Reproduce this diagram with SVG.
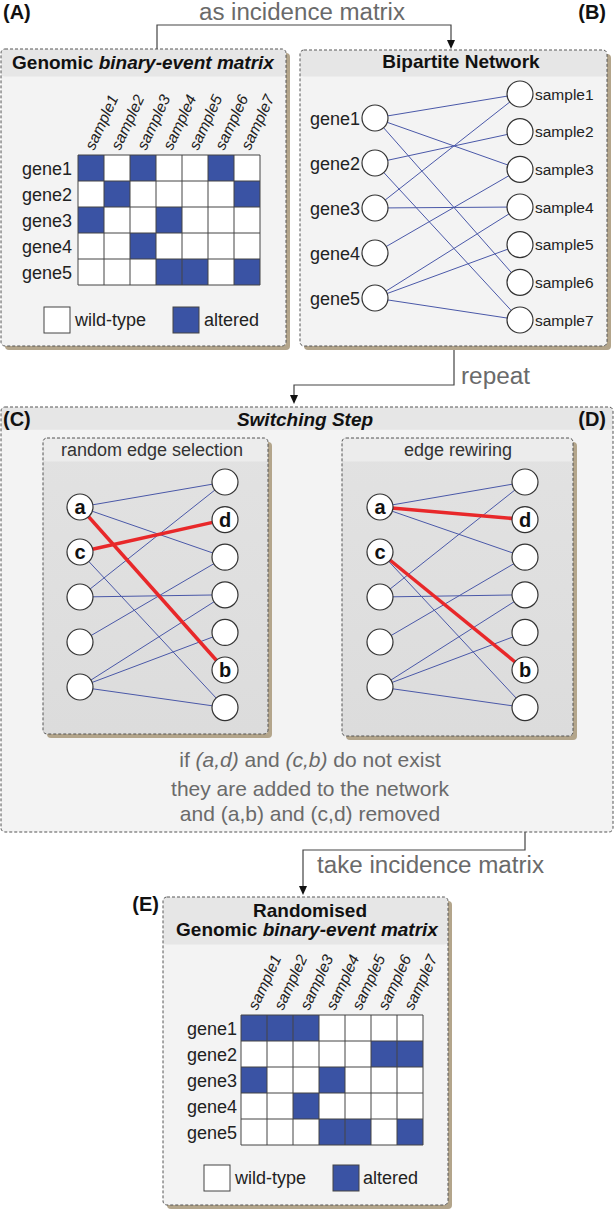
<svg xmlns="http://www.w3.org/2000/svg" width="616" height="1212" viewBox="0 0 616 1212">
<defs>
<style>
text{font-family:"Liberation Sans",Arial,sans-serif;}
.shadow{fill:#b3a58b;}
.body{fill:#f3f3f3;}
.hdr{fill:#e6e6e6;}
.inner{fill:url(#ig);}
.ihdr{fill:#ececec;}
.outline{fill:none;stroke:#555;stroke-width:1;stroke-dasharray:3 2;}
.title{font-size:19px;font-weight:bold;fill:#111;text-anchor:middle;}
.plabel{font-size:20px;font-weight:bold;fill:#111;}
.lbl{font-size:18px;fill:#222;}
.samp{font-size:15.5px;font-style:italic;fill:#222;}
.slbl{font-size:15.5px;fill:#222;}
.grid{fill:none;stroke:#444;stroke-width:1;}
.alt{fill:#3a53a4;}
.wt{fill:#fff;}
.edge{stroke:#4a58a8;stroke-width:1;}
.red{stroke:#e8282a;stroke-width:3.5;}
.node{fill:#fff;stroke:#333;stroke-width:1.2;}
.nl{font-size:20px;font-weight:bold;fill:#111;text-anchor:middle;}
.conn{fill:none;stroke:#444;stroke-width:1.2;}
.arr{fill:#111;}
.ctext{font-size:23px;fill:#6a6a6a;}
.mtext{font-size:21px;fill:#6a6a6a;text-anchor:middle;}
.ititle{font-size:18px;fill:#333;text-anchor:middle;}
</style>
<linearGradient id="ig" x1="0" y1="0" x2="0" y2="1">
<stop offset="0" stop-color="#e2e2e2"/>
<stop offset="1" stop-color="#dcdcdc"/>
</linearGradient>
</defs>

<!-- Panel labels -->
<text class="plabel" x="3" y="19">(A)</text>
<text class="plabel" x="606" y="19" text-anchor="end">(B)</text>

<!-- Connectors -->
<g id="connectors">
<path class="conn" d="M157,49 V25 H451 V41"/>
<polygon class="arr" points="447,40 455,40 451,49"/>
<path class="conn" d="M454,346 V385 H294 V396"/>
<polygon class="arr" points="290,395 298,395 294,404"/>
<path class="conn" d="M151,734 V774 H467 V745"/>
<polygon class="arr" points="463,746 471,746 467,737"/>
<path class="conn" d="M525,736 V850 H303 V886"/>
<polygon class="arr" points="299,886 307,886 303,895"/>
<text class="ctext" x="199" y="20" textLength="206" lengthAdjust="spacingAndGlyphs">as incidence matrix</text>
<text class="ctext" x="461" y="384" textLength="69" lengthAdjust="spacingAndGlyphs">repeat</text>
<text class="ctext" x="317" y="873" textLength="227" lengthAdjust="spacingAndGlyphs">take incidence matrix</text>
</g>

<!-- Panel A -->
<g id="panelA">
<rect class="shadow" x="5" y="53" width="285" height="297" rx="4"/>
<rect class="body" x="1" y="49" width="285" height="297" rx="4"/>
<rect class="hdr" x="1.5" y="49.5" width="284" height="27" rx="3.5"/>
<rect class="hdr" x="1.5" y="70" width="284" height="6"/>
<rect class="outline" x="1" y="49" width="285" height="297" rx="4"/>
<text class="title" x="143" y="69">Genomic <tspan font-style="italic">binary-event matrix</tspan></text>
<g class="samp">
<text transform="translate(94,151) rotate(-65)">sample1</text>
<text transform="translate(120,151) rotate(-65)">sample2</text>
<text transform="translate(146,151) rotate(-65)">sample3</text>
<text transform="translate(172,151) rotate(-65)">sample4</text>
<text transform="translate(198,151) rotate(-65)">sample5</text>
<text transform="translate(224,151) rotate(-65)">sample6</text>
<text transform="translate(250,151) rotate(-65)">sample7</text>
</g>
<g class="lbl" text-anchor="end">
<text x="72" y="175">gene1</text>
<text x="72" y="201">gene2</text>
<text x="72" y="227">gene3</text>
<text x="72" y="253">gene4</text>
<text x="72" y="279">gene5</text>
</g>
<rect class="wt" x="78" y="155" width="182" height="130"/>
<g class="alt">
<rect x="78" y="155" width="26" height="26"/>
<rect x="130" y="155" width="26" height="26"/>
<rect x="208" y="155" width="26" height="26"/>
<rect x="104" y="181" width="26" height="26"/>
<rect x="234" y="181" width="26" height="26"/>
<rect x="78" y="207" width="26" height="26"/>
<rect x="156" y="207" width="26" height="26"/>
<rect x="130" y="233" width="26" height="26"/>
<rect x="156" y="259" width="26" height="26"/>
<rect x="182" y="259" width="26" height="26"/>
<rect x="234" y="259" width="26" height="26"/>
</g>
<path class="grid" d="M78,155V285M104,155V285M130,155V285M156,155V285M182,155V285M208,155V285M234,155V285M260,155V285M78,155H260M78,181H260M78,207H260M78,233H260M78,259H260M78,285H260"/>
<rect class="wt" x="44" y="307" width="26" height="26" stroke="#444" stroke-width="1"/>
<text class="lbl" x="75" y="326">wild-type</text>
<rect class="alt" x="173" y="307" width="26" height="26" stroke="#444" stroke-width="1"/>
<text class="lbl" x="204" y="326">altered</text>
</g>

<!-- Panel B -->
<g id="panelB">
<rect class="shadow" x="304" y="54" width="307" height="296" rx="4"/>
<rect class="body" x="300" y="50" width="307" height="296" rx="4"/>
<rect class="hdr" x="300.5" y="50.5" width="306" height="26" rx="3.5"/>
<rect class="hdr" x="300.5" y="70" width="306" height="6"/>
<rect class="outline" x="300" y="50" width="307" height="296" rx="4"/>
<text class="title" x="461" y="68">Bipartite Network</text>
<g class="edge">
<line x1="375" y1="118" x2="520" y2="94"/>
<line x1="375" y1="118" x2="520" y2="169.3"/>
<line x1="375" y1="118" x2="520" y2="282.3"/>
<line x1="375" y1="163" x2="520" y2="131.7"/>
<line x1="375" y1="163" x2="520" y2="320"/>
<line x1="375" y1="208" x2="520" y2="94"/>
<line x1="375" y1="208" x2="520" y2="207"/>
<line x1="375" y1="253" x2="520" y2="169.3"/>
<line x1="375" y1="298" x2="520" y2="207"/>
<line x1="375" y1="298" x2="520" y2="244.7"/>
<line x1="375" y1="298" x2="520" y2="320"/>
</g>
<g class="node">
<circle cx="375" cy="118" r="13"/>
<circle cx="375" cy="163" r="13"/>
<circle cx="375" cy="208" r="13"/>
<circle cx="375" cy="253" r="13"/>
<circle cx="375" cy="298" r="13"/>
<circle cx="520" cy="94" r="13"/>
<circle cx="520" cy="131.7" r="13"/>
<circle cx="520" cy="169.3" r="13"/>
<circle cx="520" cy="207" r="13"/>
<circle cx="520" cy="244.7" r="13"/>
<circle cx="520" cy="282.3" r="13"/>
<circle cx="520" cy="320" r="13"/>
</g>
<g class="lbl" text-anchor="end">
<text x="360" y="124.5">gene1</text>
<text x="360" y="169.5">gene2</text>
<text x="360" y="214.5">gene3</text>
<text x="360" y="259.5">gene4</text>
<text x="360" y="304.5">gene5</text>
</g>
<g class="slbl">
<text x="535" y="99.5">sample1</text>
<text x="535" y="137.2">sample2</text>
<text x="535" y="174.8">sample3</text>
<text x="535" y="212.5">sample4</text>
<text x="535" y="250.2">sample5</text>
<text x="535" y="287.8">sample6</text>
<text x="535" y="325.5">sample7</text>
</g>
</g>

<!-- Panel C/D outer: Switching Step -->
<g id="switching">
<rect class="body" x="1" y="407" width="612" height="425" rx="4" fill="#f4f4f4"/>
<rect class="hdr" x="1.5" y="407.5" width="611" height="22" rx="3.5" fill="#e8e8e8"/>
<rect class="hdr" x="1.5" y="424" width="611" height="5.5" fill="#e8e8e8"/>
<rect class="outline" x="1" y="407" width="612" height="425" rx="4"/>
<text class="plabel" x="3" y="426">(C)</text>
<text class="plabel" x="606" y="426" text-anchor="end">(D)</text>
<text class="title" x="305" y="426" font-style="italic">Switching Step</text>
</g>

<!-- Inner C -->
<g id="panelC">
<rect class="shadow" x="47" y="442" width="225" height="296" rx="4"/>
<rect class="inner" x="43" y="438" width="225" height="296" rx="4"/>
<rect class="ihdr" x="43.5" y="438.5" width="224" height="23" rx="3.5"/>
<rect class="ihdr" x="43.5" y="455" width="224" height="6"/>
<rect class="outline" x="43" y="438" width="225" height="296" rx="4"/>
<text class="ititle" x="152" y="456">random edge selection</text>
<g class="edge">
<line x1="80" y1="507" x2="225" y2="482"/>
<line x1="80" y1="507" x2="225" y2="557.2"/>
<line x1="80" y1="552" x2="225" y2="707.6"/>
<line x1="80" y1="597" x2="225" y2="482"/>
<line x1="80" y1="597" x2="225" y2="594.8"/>
<line x1="80" y1="642" x2="225" y2="557.2"/>
<line x1="80" y1="687" x2="225" y2="594.8"/>
<line x1="80" y1="687" x2="225" y2="632.4"/>
<line x1="80" y1="687" x2="225" y2="707.6"/>
</g>
<g class="red">
<line x1="80" y1="507" x2="225" y2="670"/>
<line x1="80" y1="552" x2="225" y2="519.6"/>
</g>
<g class="node">
<circle cx="80" cy="507" r="13"/>
<circle cx="80" cy="552" r="13"/>
<circle cx="80" cy="597" r="13"/>
<circle cx="80" cy="642" r="13"/>
<circle cx="80" cy="687" r="13"/>
<circle cx="225" cy="482" r="13"/>
<circle cx="225" cy="519.6" r="13"/>
<circle cx="225" cy="557.2" r="13"/>
<circle cx="225" cy="594.8" r="13"/>
<circle cx="225" cy="632.4" r="13"/>
<circle cx="225" cy="670" r="13"/>
<circle cx="225" cy="707.6" r="13"/>
</g>
<text class="nl" x="80" y="514">a</text>
<text class="nl" x="80" y="559">c</text>
<text class="nl" x="225" y="526.6">d</text>
<text class="nl" x="225" y="677">b</text>
</g>

<!-- Inner D -->
<g id="panelD">
<rect class="shadow" x="346" y="442" width="231" height="298" rx="4"/>
<rect class="inner" x="342" y="438" width="231" height="298" rx="4"/>
<rect class="ihdr" x="342.5" y="438.5" width="230" height="23" rx="3.5"/>
<rect class="ihdr" x="342.5" y="455" width="230" height="6"/>
<rect class="outline" x="342" y="438" width="231" height="298" rx="4"/>
<text class="ititle" x="458" y="456">edge rewiring</text>
<g class="edge">
<line x1="380" y1="507" x2="525" y2="482"/>
<line x1="380" y1="507" x2="525" y2="557.2"/>
<line x1="380" y1="552" x2="525" y2="707.6"/>
<line x1="380" y1="597" x2="525" y2="482"/>
<line x1="380" y1="597" x2="525" y2="594.8"/>
<line x1="380" y1="642" x2="525" y2="557.2"/>
<line x1="380" y1="687" x2="525" y2="594.8"/>
<line x1="380" y1="687" x2="525" y2="632.4"/>
<line x1="380" y1="687" x2="525" y2="707.6"/>
</g>
<g class="red">
<line x1="380" y1="507" x2="525" y2="519.6"/>
<line x1="380" y1="552" x2="525" y2="670"/>
</g>
<g class="node">
<circle cx="380" cy="507" r="13"/>
<circle cx="380" cy="552" r="13"/>
<circle cx="380" cy="597" r="13"/>
<circle cx="380" cy="642" r="13"/>
<circle cx="380" cy="687" r="13"/>
<circle cx="525" cy="482" r="13"/>
<circle cx="525" cy="519.6" r="13"/>
<circle cx="525" cy="557.2" r="13"/>
<circle cx="525" cy="594.8" r="13"/>
<circle cx="525" cy="632.4" r="13"/>
<circle cx="525" cy="670" r="13"/>
<circle cx="525" cy="707.6" r="13"/>
</g>
<text class="nl" x="380" y="514">a</text>
<text class="nl" x="380" y="559">c</text>
<text class="nl" x="525" y="526.6">d</text>
<text class="nl" x="525" y="677">b</text>
</g>

<!-- Switching condition text -->
<g id="condition">
<text class="mtext" x="310" y="767">if <tspan font-style="italic">(a,d)</tspan> and <tspan font-style="italic">(c,b)</tspan> do not exist</text>
<text class="mtext" x="310" y="796">they are added to the network</text>
<text class="mtext" x="310" y="821">and (a,b) and (c,d) removed</text>
</g>

<!-- Panel E -->
<g id="panelE">
<text class="plabel" x="159" y="911" text-anchor="end">(E)</text>
<rect class="shadow" x="167" y="901" width="285" height="308" rx="4"/>
<rect class="body" x="163" y="897" width="285" height="308" rx="4"/>
<rect class="hdr" x="163.5" y="897.5" width="284" height="47" rx="3.5"/>
<rect class="hdr" x="163.5" y="938" width="284" height="6"/>
<rect class="outline" x="163" y="897" width="285" height="308" rx="4"/>
<text class="title" x="310" y="917">Randomised</text>
<text class="title" x="307" y="936">Genomic <tspan font-style="italic">binary-event matrix</tspan></text>
<g class="samp">
<text transform="translate(257,1011) rotate(-65)">sample1</text>
<text transform="translate(283,1011) rotate(-65)">sample2</text>
<text transform="translate(309,1011) rotate(-65)">sample3</text>
<text transform="translate(335,1011) rotate(-65)">sample4</text>
<text transform="translate(361,1011) rotate(-65)">sample5</text>
<text transform="translate(387,1011) rotate(-65)">sample6</text>
<text transform="translate(413,1011) rotate(-65)">sample7</text>
</g>
<g class="lbl" text-anchor="end">
<text x="237" y="1035">gene1</text>
<text x="237" y="1061">gene2</text>
<text x="237" y="1087">gene3</text>
<text x="237" y="1113">gene4</text>
<text x="237" y="1139">gene5</text>
</g>
<rect class="wt" x="241" y="1015" width="182" height="130"/>
<g class="alt">
<rect x="241" y="1015" width="26" height="26"/>
<rect x="267" y="1015" width="26" height="26"/>
<rect x="293" y="1015" width="26" height="26"/>
<rect x="371" y="1041" width="26" height="26"/>
<rect x="397" y="1041" width="26" height="26"/>
<rect x="241" y="1067" width="26" height="26"/>
<rect x="319" y="1067" width="26" height="26"/>
<rect x="293" y="1093" width="26" height="26"/>
<rect x="319" y="1119" width="26" height="26"/>
<rect x="345" y="1119" width="26" height="26"/>
<rect x="397" y="1119" width="26" height="26"/>
</g>
<path class="grid" d="M241,1015V1145M267,1015V1145M293,1015V1145M319,1015V1145M345,1015V1145M371,1015V1145M397,1015V1145M423,1015V1145M241,1015H423M241,1041H423M241,1067H423M241,1093H423M241,1119H423M241,1145H423"/>
<rect class="wt" x="204" y="1165" width="26" height="26" stroke="#444" stroke-width="1"/>
<text class="lbl" x="235" y="1184">wild-type</text>
<rect class="alt" x="333" y="1165" width="26" height="26" stroke="#444" stroke-width="1"/>
<text class="lbl" x="363" y="1184">altered</text>
</g>
</svg>
